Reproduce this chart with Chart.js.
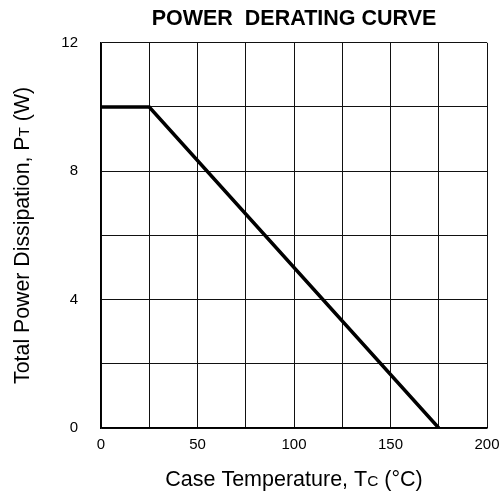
<!DOCTYPE html>
<html>
<head>
<meta charset="utf-8">
<script src="https://cdn.jsdelivr.net/npm/chart.js@4/dist/chart.umd.min.js"></script>
<style>
  html, body { margin: 0; padding: 0; background: #fff; }
  #wrap { width: 499px; height: 500px; }
</style>
</head>
<body>
<div id="wrap"><canvas id="c" width="499" height="500"></canvas></div>
<script>
// ---- data ----
const caseTemps = [0, 25, 175];          // °C
const powerWatts = [10, 10, 0];          // W
const xTickValues = [0, 50, 100, 150, 200];
const yTickValues = [0, 4, 8, 12];
const chartTitle = 'POWER  DERATING CURVE';
const xTitleParts = [['Case Temperature, T', 1], ['C', 0.72], [' (\u00B0C)', 1]];
const yTitleParts = [['Total Power Dissipation, P', 1], ['T', 0.72], [' (W)', 1]];

const FONT = '"Liberation Sans", Arial, sans-serif';
const points = caseTemps.map((t, i) => ({ x: t, y: powerWatts[i] }));

function drawParts(ctx, parts, size, cx, cy, rot) {
  ctx.save();
  ctx.translate(cx, cy);
  ctx.rotate(rot);
  ctx.fillStyle = '#000';
  ctx.textBaseline = 'alphabetic';
  let total = 0;
  const widths = parts.map(([s, k]) => {
    ctx.font = (size * k) + 'px ' + FONT;
    const w = ctx.measureText(s).width;
    total += w;
    return w;
  });
  let x = -total / 2;
  const base = size * 0.36;
  parts.forEach(([s, k], i) => {
    ctx.font = (size * k) + 'px ' + FONT;
    ctx.textAlign = 'left';
    ctx.fillText(s, x, base);
    x += widths[i];
  });
  ctx.restore();
}

const axisTitles = {
  id: 'axisTitles',
  afterDraw(chart) {
    const ctx = chart.ctx;
    const a = chart.chartArea;
    drawParts(ctx, xTitleParts, 21.5, (a.left + a.right) / 2, 478, 0);
    drawParts(ctx, yTitleParts, 21.3, 21, (a.top + a.bottom) / 2, -Math.PI / 2);
  }
};

new Chart(document.getElementById('c'), {
  type: 'line',
  data: {
    datasets: [{
      data: points,
      borderColor: '#000',
      borderWidth: 3.5,
      pointRadius: 0,
      tension: 0,
      fill: false
    }]
  },
  options: {
    responsive: false,
    animation: false,
    layout: { padding: { left: 0, right: 0, top: 0, bottom: 0 } },
    plugins: {
      legend: { display: false },
      tooltip: { enabled: false },
      title: {
        display: true,
        text: chartTitle,
        fullSize: false,
        color: '#000',
        font: { family: FONT, size: 21.5, weight: 'bold' },
        padding: { top: 6, bottom: 11 }
      }
    },
    scales: {
      x: {
        type: 'linear',
        min: 0, max: 200,
        afterFit(s) { s.height = 72; s.paddingRight = 12; s.paddingLeft = 0; },
        border: { display: true, color: '#000', width: 1.5 },
        grid: { color: '#111', lineWidth: 1, drawTicks: false },
        ticks: {
          stepSize: 25,
          padding: 8,
          color: '#000',
          font: { family: FONT, size: 15 },
          maxRotation: 0,
          autoSkip: false,
          callback: v => xTickValues.includes(v) ? String(v) : ''
        }
      },
      y: {
        type: 'linear',
        min: 0, max: 12,
        afterFit(s) { s.width = 101; s.paddingTop = 0; s.paddingBottom = 0; },
        border: { display: true, color: '#000', width: 1.5 },
        grid: { color: '#111', lineWidth: 1, drawTicks: false },
        ticks: {
          stepSize: 2,
          padding: 23,
          color: '#000',
          font: { family: FONT, size: 15 },
          autoSkip: false,
          callback: v => yTickValues.includes(v) ? String(v) : ''
        }
      }
    }
  },
  plugins: [axisTitles]
});
</script>
</body>
</html>
